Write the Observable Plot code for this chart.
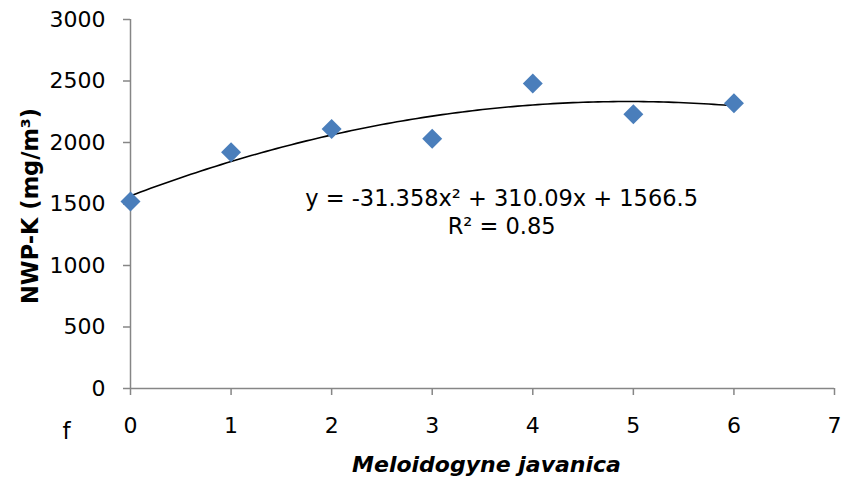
<!DOCTYPE html>
<html>
<head>
<meta charset="utf-8">
<script src="https://cdn.jsdelivr.net/npm/d3@7"></script>
<script src="https://cdn.jsdelivr.net/npm/@observablehq/plot@0.6"></script>
<style>
  html, body { margin: 0; padding: 0; background: #fff; }
  #chart { width: 856px; height: 483px; }
</style>
</head>
<body>
<div id="chart"></div>
<script>
// Data
const doses = [0, 1, 2, 3, 4, 5, 6];
const nwpK = [1520, 1920, 2110, 2030, 2480, 2230, 2320];
const xTicks = [0, 1, 2, 3, 4, 5, 6, 7];
const yTicks = [0, 500, 1000, 1500, 2000, 2500, 3000];
// Polynomial trendline coefficients as printed on the chart (a x² + b x + c)
const trendCoef = [-31.358, 310.09, 1566.5];
const r2 = 0.85;
const xTitle = "Meloidogyne javanica";
const yTitle = "NWP-K (mg/m³)";
const panelLabel = "f";

const points = doses.map((d, i) => ({x: d, y: nwpK[i]}));
const [a, b, c] = trendCoef;
const trend = d3.range(0, 6.0001, 0.05).map(x => ({x, y: a * x * x + b * x + c}));
const eqText = `y = ${a}x² + ${b}x + ${c}\nR² = ${r2}`;

const axisGray = "#868686";

const chart = Plot.plot({
  width: 856,
  height: 483,
  marginLeft: 130,
  marginRight: 22,
  marginTop: 19,
  marginBottom: 95,
  style: {fontFamily: "DejaVu Sans", fontSize: "22px", color: "#000", background: "#fff"},
  x: {domain: [0, 7]},
  y: {domain: [0, 3000]},
  marks: [
    Plot.ruleX([0], {stroke: axisGray, strokeWidth: 1.5}),
    Plot.ruleY([0], {stroke: axisGray, strokeWidth: 1.5}),
    Plot.axisX({ticks: xTicks, tickSize: 7, tickPadding: 22, stroke: axisGray, strokeWidth: 1.5,
      tickFormat: d => String(d), fontSize: 22, label: null}),
    Plot.axisY({ticks: yTicks, tickSize: 7, tickPadding: 18, stroke: axisGray, strokeWidth: 1.5,
      tickFormat: d => String(d), fontSize: 22, label: null}),
    Plot.line(trend, {x: "x", y: "y", stroke: "#000", strokeWidth: 1.6}),
    Plot.dot(points, {x: "x", y: "y", symbol: "diamond2", r: 9, fill: "#4a7ebb", stroke: "none"}),
    Plot.text([eqText], {x: 3.69, y: 1440, text: d => d, fontSize: 22.5, lineHeight: 1.22,
      textAnchor: "middle", lineAnchor: "middle", fill: "#000"}),
    Plot.text([yTitle], {frameAnchor: "left", dx: -100, dy: 2, rotate: -90, text: d => d,
      fontSize: 22.5, fontWeight: "bold", textAnchor: "middle", lineAnchor: "middle", fill: "#000"}),
    Plot.text([xTitle], {frameAnchor: "bottom", dx: 4, dy: 76, text: d => d,
      fontSize: 22, fontWeight: "bold", fontStyle: "italic", textAnchor: "middle", lineAnchor: "middle", fill: "#000"}),
    Plot.text([panelLabel], {frameAnchor: "bottom-left", dx: -64, dy: 43, text: d => d,
      fontSize: 23, textAnchor: "middle", lineAnchor: "middle", fill: "#000"})
  ]
});
document.getElementById("chart").appendChild(chart);
</script>
</body>
</html>
